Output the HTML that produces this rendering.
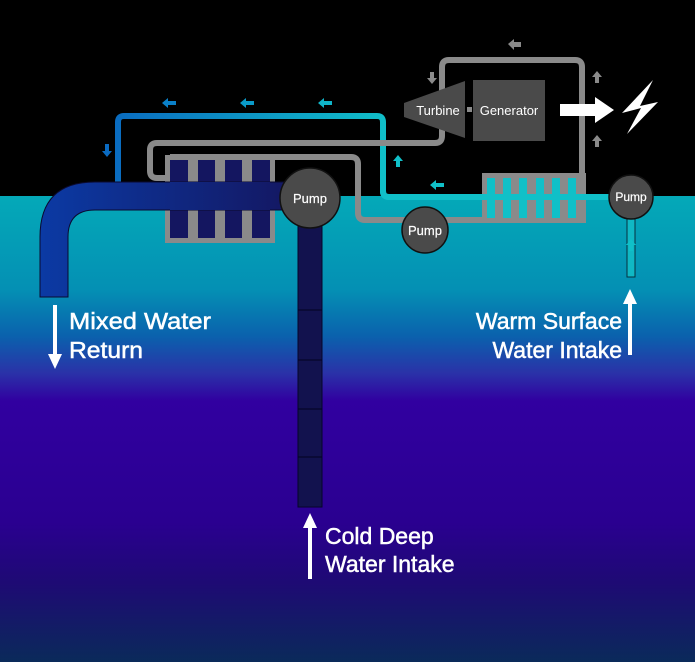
<!DOCTYPE html>
<html><head><meta charset="utf-8"><style>
html,body{margin:0;padding:0;background:#000;}
svg{display:block;}
text{font-family:"Liberation Sans",sans-serif;}
</style></head><body>
<svg width="695" height="662" viewBox="0 0 695 662" xmlns="http://www.w3.org/2000/svg">
<defs>
<linearGradient id="sea" x1="0" y1="196" x2="0" y2="662" gradientUnits="userSpaceOnUse">
<stop offset="0" stop-color="#04a9b8"/>
<stop offset="0.2" stop-color="#0490b4"/>
<stop offset="0.3" stop-color="#0a62ad"/>
<stop offset="0.38" stop-color="#2a32a8"/>
<stop offset="0.44" stop-color="#3100a0"/>
<stop offset="0.7" stop-color="#2a0090"/>
<stop offset="0.83" stop-color="#1e0a74"/>
<stop offset="1" stop-color="#0a2a5a"/>
</linearGradient>
<linearGradient id="warmpipe" x1="40" y1="0" x2="300" y2="0" gradientUnits="userSpaceOnUse">
<stop offset="0" stop-color="#0b3aa4"/>
<stop offset="1" stop-color="#141660"/>
</linearGradient>
<linearGradient id="blueloop" x1="110" y1="0" x2="390" y2="0" gradientUnits="userSpaceOnUse">
<stop offset="0" stop-color="#0a6ac0"/>
<stop offset="1" stop-color="#10c0c8"/>
</linearGradient>
</defs>
<rect x="0" y="0" width="695" height="196" fill="#000"/>
<rect x="0" y="196" width="695" height="466" fill="url(#sea)"/>

<path d="M118 186 V122 Q118 116 124 116 H377 Q383 116 383 122 V191 Q383 197 389 197 H610" fill="none" stroke="url(#blueloop)" stroke-width="6"/>
<path d="M383 150 V191 Q383 197 389 197 H610" fill="none" stroke="#10c0c8" stroke-width="6"/>

<path d="M167 178 H157 Q150 178 150 171 V150 Q150 143 157 143 H435 Q442 143 442 136 V67 Q442 60 449 60 H575 Q582 60 582 67 V176" fill="none" stroke="#8a8a8a" stroke-width="6"/>
<path d="M170 157 H351 Q358 157 358 164 V213 Q358 220 365 220 H485" fill="none" stroke="#8a8a8a" stroke-width="6"/>

<rect x="165" y="155" width="110" height="88" fill="#8a8a8a"/>
<rect x="170" y="160" width="18" height="78" fill="#141660"/>
<rect x="198" y="160" width="17" height="78" fill="#141660"/>
<rect x="225" y="160" width="17" height="78" fill="#141660"/>
<rect x="252" y="160" width="18" height="78" fill="#141660"/>

<path d="M300 182 H95 Q40 182 40 237 V297 H68 V237 Q68 210 95 210 H300 Z" fill="url(#warmpipe)" stroke="#0a0a30" stroke-width="1"/>
<rect x="170" y="182" width="100" height="28" fill="url(#warmpipe)"/>

<rect x="298" y="220" width="24" height="287" fill="#12124e" stroke="#05052a" stroke-width="1"/>
<g stroke="#05052a" stroke-width="1.2">
<line x1="298" y1="310" x2="322" y2="310"/><line x1="298" y1="360" x2="322" y2="360"/>
<line x1="298" y1="409" x2="322" y2="409"/><line x1="298" y1="457" x2="322" y2="457"/>
</g>

<rect x="482" y="173" width="104" height="50" fill="#8a8a8a"/>
<g fill="#10c0c8">
<rect x="487" y="178" width="8" height="40"/><rect x="503" y="178" width="8" height="40"/>
<rect x="519" y="178" width="8" height="40"/><rect x="536" y="178" width="8" height="40"/>
<rect x="552" y="178" width="8" height="40"/><rect x="568" y="178" width="8" height="40"/>
<rect x="482" y="194" width="130" height="6"/>
</g>

<rect x="627" y="215" width="8" height="62" fill="#10b8c4" stroke="#063040" stroke-width="1"/>

<g fill="#4a4a4a" stroke="#111" stroke-width="1.5">
<circle cx="310" cy="198" r="30"/>
<circle cx="425" cy="230" r="23"/>
<circle cx="631" cy="197" r="22"/>
</g>
<g fill="#fff" font-size="13" text-anchor="middle" stroke="#fff" stroke-width="0.2">
<text x="310" y="203">Pump</text>
<text x="425" y="235">Pump</text>
<text x="631" y="201" font-size="12">Pump</text>
</g>

<polygon points="404,103 465,81 465,138 404,117" fill="#4a4a4a"/>
<rect x="467" y="107" width="5" height="5" fill="#8a8a8a"/>
<rect x="473" y="80" width="72" height="61" fill="#4a4a4a"/>
<text x="438" y="115" fill="#fff" font-size="13" text-anchor="middle">Turbine</text>
<text x="509" y="115" fill="#fff" font-size="13" text-anchor="middle">Generator</text>
<polygon points="560,104 595,104 595,97 614,110 595,123 595,116 560,116" fill="#fff"/>
<polygon points="653,80 622,113 641,108 627,134 658,102 640,106" fill="#fff"/>

<g fill="#8a8a8a">
<polygon points="508,44 514,39 514,42 521,42 521,47 514,47 514,50"/>
<polygon points="432,84 427,78 430,78 430,72 434,72 434,78 437,78"/>
<polygon points="597,71 592,77 595,77 595,83 599,83 599,77 602,77"/>
<polygon points="597,135 592,141 595,141 595,147 599,147 599,141 602,141"/>
</g>
<g fill="#10c0c8">
<polygon points="398,155 393,161 396,161 396,167 400,167 400,161 403,161"/>
<polygon points="430,185 436,180 436,183 444,183 444,187 436,187 436,190"/>
<polygon points="631,239 626,245 629,245 629,251 633,251 633,245 636,245"/>
</g>
<polygon points="162,103 168,98 168,101 176,101 176,105 168,105 168,108" fill="#0a80c8"/>
<polygon points="240,103 246,98 246,101 254,101 254,105 246,105 246,108" fill="#0a9ac8"/>
<polygon points="318,103 324,98 324,101 332,101 332,105 324,105 324,108" fill="#10b4c8"/>
<polygon points="107,157 102,151 105,151 105,144 109,144 109,151 112,151" fill="#0a6ac0"/>

<g fill="#fff">
<rect x="53" y="305" width="4" height="50"/><polygon points="48,354 62,354 55,369"/>
<rect x="628" y="303" width="4" height="52"/><polygon points="623,304 637,304 630,289"/>
<rect x="308" y="527" width="4" height="52"/><polygon points="303,528 317,528 310,513"/>
</g>
<g fill="#fff" font-size="23" stroke="#fff" stroke-width="0.5">
<text x="69" y="329" textLength="142" lengthAdjust="spacingAndGlyphs">Mixed Water</text>
<text x="69" y="358" textLength="74" lengthAdjust="spacingAndGlyphs">Return</text>
<text x="622" y="329" text-anchor="end">Warm Surface</text>
<text x="622" y="358" text-anchor="end">Water Intake</text>
<text x="325" y="544">Cold Deep</text>
<text x="325" y="572">Water Intake</text>
</g>
</svg>
</body></html>
